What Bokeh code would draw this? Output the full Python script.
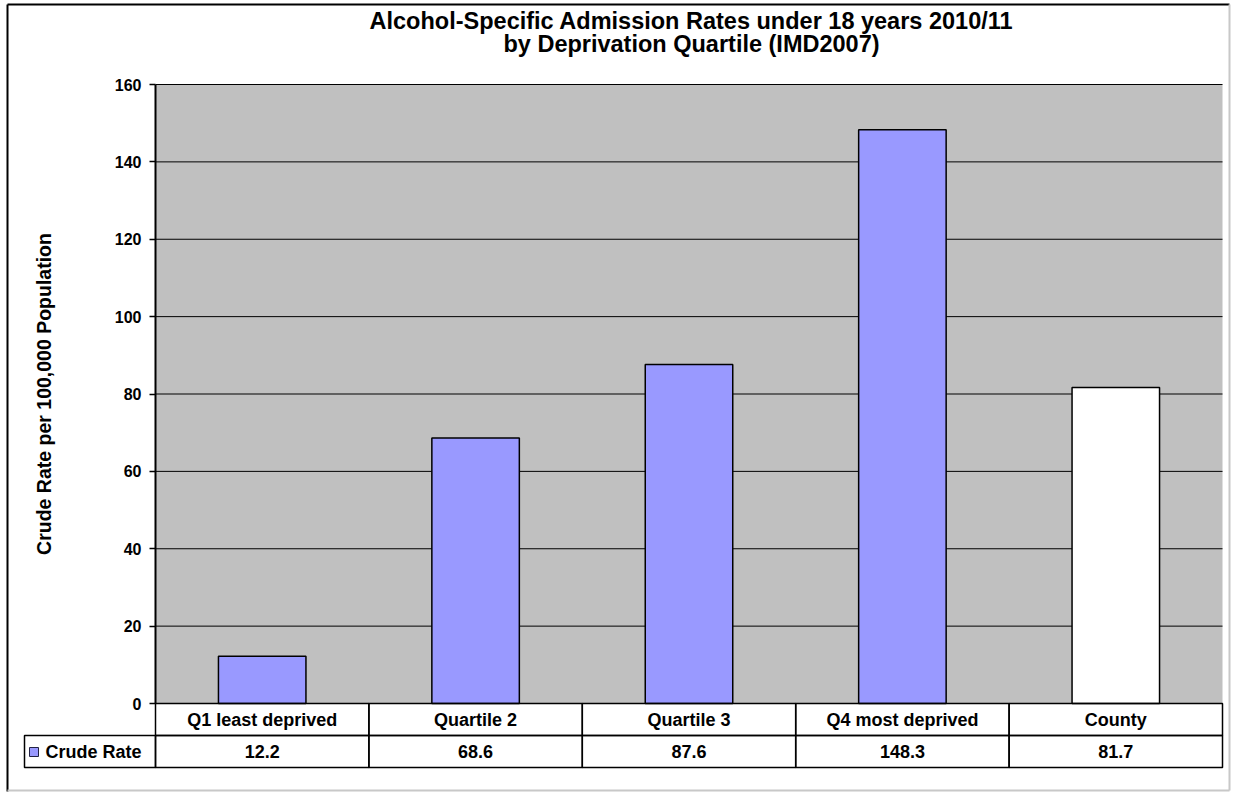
from bokeh.plotting import figure
from bokeh.models import Range1d, FixedTicker, LinearAxis, ColumnDataSource
from bokeh.core.properties import value
from bokeh.embed import file_html
from bokeh.resources import INLINE

# ---- data ----
categories = ["Q1 least deprived", "Quartile 2", "Quartile 3", "Q4 most deprived", "County"]
crude_rate = [12.2, 68.6, 87.6, 148.3, 81.7]
series_name = "Crude Rate"
y_ticks = [0, 20, 40, 60, 80, 100, 120, 140, 160]
title_lines = ["Alcohol-Specific Admission Rates under 18 years 2010/11",
               "by Deprivation Quartile (IMD2007)"]
y_label = "Crude Rate per 100,000 Population"

# ---- style / layout ----
bar_colors = ["#9999FF", "#9999FF", "#9999FF", "#9999FF", "#FFFFFF"]
FONT = value("Liberation Sans")
W, H = 1233, 792
FL, FR, FT, FB = 155, 1222, 84, 703          # plot-area edges (canvas px)
YMAX = y_ticks[-1]
N = len(categories)
BW = (FR - FL) / N                            # px per category band
SY = (FB - FT) / YMAX                         # px per y unit


def dx(cx):
    return (cx - FL) / BW


def dy(cy):
    return (FB - cy) / SY


p = figure(width=W, height=H, title=None,
           x_range=Range1d(dx(0), dx(W)), y_range=Range1d(dy(H), dy(0)),
           x_axis_location=None, y_axis_location=None,
           output_backend="svg", toolbar_location=None,
           min_border_left=0, min_border_right=0, min_border_top=0, min_border_bottom=0)
p.background_fill_color = "white"
p.border_fill_color = "white"
p.outline_line_color = None
p.grid.visible = False

# plot area background
p.quad(left=[0], right=[N], bottom=[0], top=[YMAX], fill_color="#C0C0C0", line_color=None)
# gridlines
p.segment(x0=[0] * len(y_ticks), x1=[N] * len(y_ticks), y0=y_ticks, y1=y_ticks,
          line_color="black", line_width=1)

# bars
xs = [i + 0.5 for i in range(N)]
src = ColumnDataSource(dict(x=xs, cat=categories, val=crude_rate, color=bar_colors))
p.vbar(x="x", top="val", width=0.41, source=src, fill_color="color",
       line_color="black", line_width=1.5)

# y axis at the left edge of the plot area
yax = LinearAxis(fixed_location=0, ticker=FixedTicker(ticks=y_ticks), bounds=(0, YMAX))
yax.minor_tick_line_color = None
yax.major_tick_in = 0
yax.major_tick_out = 6
yax.major_tick_line_color = "black"
yax.major_tick_line_width = 1.5
yax.axis_line_color = "black"
yax.axis_line_width = 2
yax.major_label_standoff = 8
yax.major_label_text_font = "Liberation Sans"
yax.major_label_text_font_style = "bold"
yax.major_label_text_font_size = "16px"
yax.major_label_text_color = "black"
yax.axis_label = y_label
yax.axis_label_text_font = "Liberation Sans"
yax.axis_label_text_font_style = "bold"
yax.axis_label_text_font_size = "19.5px"
yax.axis_label_text_color = "black"
yax.axis_label_standoff = 57
p.add_layout(yax, "left")

# title
p.text(x=[dx(691)] * 2, y=[dy(20), dy(43)], text=title_lines,
       text_align="center", text_baseline="middle", text_font=FONT,
       text_font_style="bold", text_font_size="23.5px", text_color="black")

# data table
r1t, r1b, r2b = dy(703), dy(735), dy(767)
p.quad(left=list(range(N)) * 2, right=[i + 1 for i in range(N)] * 2,
       top=[r1t] * N + [r1b] * N, bottom=[r1b] * N + [r2b] * N,
       fill_color=None, line_color="black", line_width=1.5)
p.quad(left=[dx(24)], right=[0], top=[r1b], bottom=[r2b],
       fill_color=None, line_color="black", line_width=1.5)
p.text(x="x", y=(r1t + r1b) / 2, text="cat", source=src, text_align="center",
       text_baseline="middle", text_font=FONT, text_font_style="bold",
       text_font_size="18px", text_color="black")
p.text(x=xs, y=[(r1b + r2b) / 2] * N, text=[f"{v:.1f}" for v in crude_rate],
       text_align="center", text_baseline="middle", text_font=FONT,
       text_font_style="bold", text_font_size="18px", text_color="black")
# legend swatch + series name
p.quad(left=[dx(29)], right=[dx(38)], top=[dy(747)], bottom=[dy(756)],
       fill_color="#9999FF", line_color="#222244", line_width=1)
p.text(x=[dx(45)], y=[(r1b + r2b) / 2], text=[series_name], text_align="left",
       text_baseline="middle", text_font=FONT, text_font_style="bold",
       text_font_size="18px", text_color="black")

# outer chart border
p.segment(x0=[dx(7), dx(7)], y0=[dy(4), dy(4)], x1=[dx(7), dx(1229)], y1=[dy(791), dy(4)],
          line_color="black", line_width=2)
p.segment(x0=[dx(1229), dx(7)], y0=[dy(4), dy(790)], x1=[dx(1229), dx(1229)], y1=[dy(790), dy(790)],
          line_color="#C8C8C8", line_width=2)

open("out.html", "w").write(file_html(p, INLINE))
